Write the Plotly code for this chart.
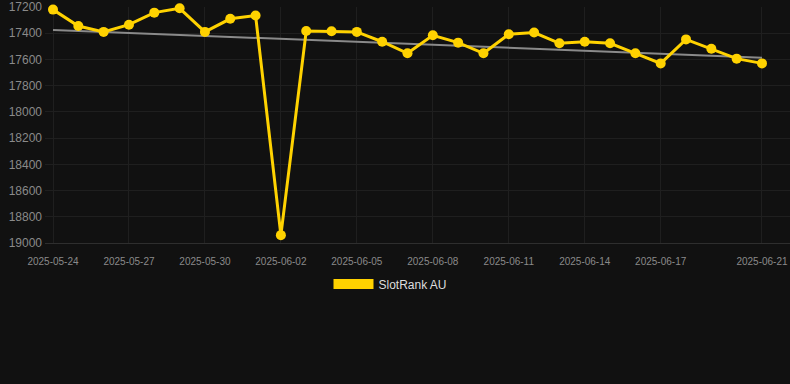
import plotly.graph_objects as go
import pandas as pd

dates = pd.date_range("2025-05-24", "2025-06-21", freq="D").strftime("%Y-%m-%d").tolist()
rank_au = [17220, 17345, 17390, 17335, 17243, 17210, 17390, 17290, 17265, 18940,
           17383, 17385, 17390, 17465, 17553, 17416, 17472, 17553, 17408, 17395,
           17477, 17465, 17477, 17553, 17630, 17447, 17518, 17594, 17630]
trend_dates = ["2025-05-24", "2025-06-21"]
trend_vals = [17375, 17587]
tick_dates = ["2025-05-24", "2025-05-27", "2025-05-30", "2025-06-02", "2025-06-05",
              "2025-06-08", "2025-06-11", "2025-06-14", "2025-06-17", "2025-06-21"]
y_ticks = [17200, 17400, 17600, 17800, 18000, 18200, 18400, 18600, 18800, 19000]

YEL = "#FFD200"
fig = go.Figure()
fig.add_trace(go.Scatter(x=trend_dates, y=trend_vals, mode="lines",
                         line=dict(color="#8a8a8a", width=2), showlegend=False,
                         hoverinfo="skip"))
fig.add_trace(go.Scatter(x=dates, y=rank_au, mode="lines+markers",
                         line=dict(color=YEL, width=3),
                         marker=dict(color=YEL, size=10),
                         cliponaxis=False, showlegend=False))
fig.add_trace(go.Scatter(x=[None], y=[None], mode="lines", name="SlotRank AU",
                         line=dict(color=YEL, width=14)))

fig.update_layout(
    width=790, height=384,
    margin=dict(l=45, r=0, t=7, b=141),
    paper_bgcolor="#111111", plot_bgcolor="#111111",
    font=dict(family="Liberation Sans, Arial, sans-serif", color="#8a8a8a"),
    xaxis=dict(type="date",
               range=["2025-05-23 16:25", "2025-06-22 02:33"],
               tickvals=tick_dates, ticktext=tick_dates,
               tickfont=dict(size=10, color="#8a8a8a"),
               showgrid=True, gridcolor="#1f1f1f", gridwidth=1,
               zeroline=False, showline=True, linecolor="#2e2e2e", linewidth=1,
               ticks="", ticklabelstandoff=9),
    yaxis=dict(range=[19000, 17200], tickvals=y_ticks,
               ticktext=[str(v) for v in y_ticks],
               tickfont=dict(size=12, color="#8a8a8a"),
               showgrid=True, gridcolor="#1f1f1f", gridwidth=1,
               zeroline=False, showline=False, ticks="", ticklabelstandoff=2),
    legend=dict(orientation="h", xref="container", yref="container",
                x=0.4943, xanchor="center", y=1 - 284 / 384, yanchor="middle",
                font=dict(size=12, color="#dddddd"), itemwidth=40,
                bgcolor="rgba(0,0,0,0)"),
)
fig.write_html("out.html")
